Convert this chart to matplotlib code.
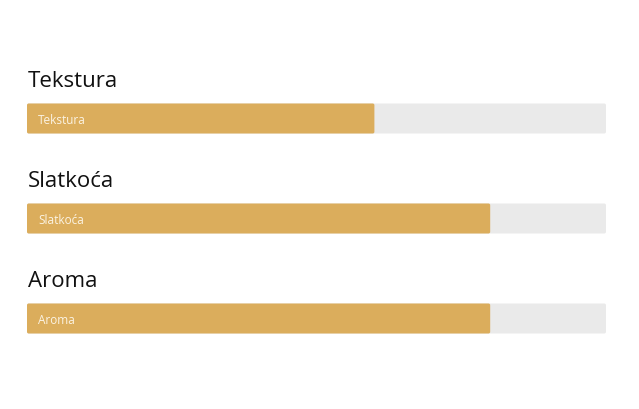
import matplotlib.pyplot as plt
from matplotlib.patches import FancyBboxPatch

# Data
labels = ['Tekstura', 'Slatkoća', 'Aroma']
values = [60, 80, 80]  # percent

gold = '#DBAD5C'
track = '#EAEAEA'

plt.rcParams['font.family'] = ['Open Sans', 'DejaVu Sans']

fig = plt.figure(figsize=(6.39, 4.10), dpi=100)
ax = fig.add_axes([27 / 639, 0, 579 / 639, 1])
ax.set_xlim(0, 100)
# one row = 100 px, first bar centred ~119.5 px from the top
ax.set_ylim((410 - 119.5) / 100, -119.5 / 100)
ax.axis('off')

h = 0.30
for i, (lab, v) in enumerate(zip(labels, values)):
    ax.add_patch(FancyBboxPatch((0, i - h / 2), 100, h,
                                boxstyle='round,pad=0,rounding_size=0.3',
                                mutation_aspect=h / 5.2,
                                fc=track, ec='none'))
    ax.add_patch(FancyBboxPatch((0, i - h / 2), v, h,
                                boxstyle='round,pad=0,rounding_size=0.3',
                                mutation_aspect=h / 5.2,
                                fc=gold, ec='none'))
    ax.text(0.15, i - 0.325, lab, fontsize=16, color='#111111', va='baseline', ha='left')
    ax.text(1.9, i + 0.04, lab, fontsize=8.5, color='#FBF3E3', va='baseline', ha='left')

fig.savefig('out.png', dpi=100)
